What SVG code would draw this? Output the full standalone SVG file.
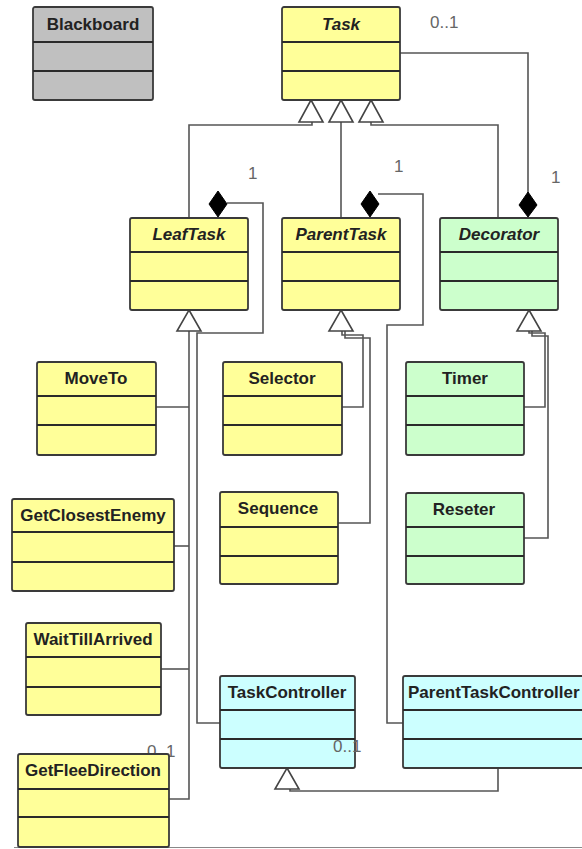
<svg xmlns="http://www.w3.org/2000/svg" width="582" height="849" viewBox="0 0 582 849">
  <style>
    .box { stroke: #3a3a3a; stroke-width: 1.8; }
    .yellow { fill: #ffff99; }
    .green { fill: #ccffcc; }
    .cyan { fill: #ccffff; }
    .gray { fill: #c0c0c0; }
    .div { stroke: #2a2a2a; stroke-width: 1.8; }
    .title { font-family: "Liberation Sans", Arial, sans-serif; font-size: 17px; font-weight: bold; fill: #222; text-anchor: middle; }
    .abstract { font-style: italic; }
    .conn { fill: none; stroke: #555; stroke-width: 1.6; }
    .gen { fill: #fff; stroke: #444; stroke-width: 1.6; }
    .comp { fill: #000; stroke: #000; stroke-width: 1; }
    .mult { font-family: "Liberation Sans", Arial, sans-serif; font-size: 17px; fill: #666; }
  </style>

  <!-- multiplicity partly hidden behind GetFleeDirection -->
  <text class="mult" x="147" y="757">0..1</text>

  <!-- connectors -->
  <g id="connectors">
    <!-- Task to Decorator association -->
    <path class="conn" d="M400,53 H528 V193"/>
    <!-- generalizations to Task -->
    <path class="conn" d="M189,218 V125 H312 V122"/>
    <path class="conn" d="M341,218 V122"/>
    <path class="conn" d="M498,218 V125 H371 V122"/>
    <!-- LeafTask subclasses -->
    <path class="conn" d="M189,331 V799 H169"/>
    <path class="conn" d="M156,407 H189"/>
    <path class="conn" d="M174,546 H189"/>
    <path class="conn" d="M161,669 H189"/>
    <!-- LeafTask composition to TaskController -->
    <path class="conn" d="M227,203 H263 V333 H197 V723 H220"/>
    <!-- ParentTask subclasses -->
    <path class="conn" d="M342,331 V335 H363 V407 H342"/>
    <path class="conn" d="M345,331 V338 H370 V523 H338"/>
    <!-- ParentTask composition to ParentTaskController -->
    <path class="conn" d="M378,194 H423 V325 H387 V723 H403"/>
    <!-- Decorator subclasses -->
    <path class="conn" d="M529,331 V333 H545 V407 H524"/>
    <path class="conn" d="M532,331 V336 H548 V538 H524"/>
    <!-- ParentTaskController generalizes TaskController -->
    <path class="conn" d="M498,768 V791 H290 V789"/>

    <!-- hollow triangles -->
    <polygon class="gen" points="311,100 323,122 299,122"/>
    <polygon class="gen" points="341,100 353,122 329,122"/>
    <polygon class="gen" points="371,100 383,122 359,122"/>
    <polygon class="gen" points="189,310 201,331 177,331"/>
    <polygon class="gen" points="341,310 353,331 329,331"/>
    <polygon class="gen" points="529,310 541,331 517,331"/>
    <polygon class="gen" points="287,768 299,789 275,789"/>

    <!-- composition diamonds -->
    <polygon class="comp" points="218,191 227,204 218,217 209,204"/>
    <polygon class="comp" points="370,191 379,204 370,217 361,204"/>
    <polygon class="comp" points="528,192 537,205 528,217 519,205"/>

    <!-- bottom rule -->
    <line x1="14" y1="847.5" x2="582" y2="847.5" stroke="#888" stroke-width="1.2"/>
  </g>

  <g id="Blackboard">
    <rect class="box gray" x="33" y="7" width="120" height="93" rx="2"/>
    <line class="div" x1="33" y1="42" x2="153" y2="42"/>
    <line class="div" x1="33" y1="71" x2="153" y2="71"/>
    <text class="title" x="93" y="30">Blackboard</text>
  </g>

  <g id="Task">
    <rect class="box yellow" x="282" y="7" width="118" height="93" rx="2"/>
    <line class="div" x1="282" y1="42" x2="400" y2="42"/>
    <line class="div" x1="282" y1="71" x2="400" y2="71"/>
    <text class="title abstract" x="341" y="30">Task</text>
  </g>

  <g id="LeafTask">
    <rect class="box yellow" x="130" y="218" width="118" height="92" rx="2"/>
    <line class="div" x1="130" y1="252" x2="248" y2="252"/>
    <line class="div" x1="130" y1="281" x2="248" y2="281"/>
    <text class="title abstract" x="189" y="240">LeafTask</text>
  </g>

  <g id="ParentTask">
    <rect class="box yellow" x="282" y="218" width="118" height="92" rx="2"/>
    <line class="div" x1="282" y1="252" x2="400" y2="252"/>
    <line class="div" x1="282" y1="281" x2="400" y2="281"/>
    <text class="title abstract" x="341" y="240">ParentTask</text>
  </g>

  <g id="Decorator">
    <rect class="box green" x="440" y="218" width="118" height="92" rx="2"/>
    <line class="div" x1="440" y1="252" x2="558" y2="252"/>
    <line class="div" x1="440" y1="281" x2="558" y2="281"/>
    <text class="title abstract" x="499" y="240">Decorator</text>
  </g>

  <g id="MoveTo">
    <rect class="box yellow" x="37" y="362" width="119" height="93" rx="2"/>
    <line class="div" x1="37" y1="396" x2="156" y2="396"/>
    <line class="div" x1="37" y1="425" x2="156" y2="425"/>
    <text class="title" x="96" y="384">MoveTo</text>
  </g>

  <g id="Selector">
    <rect class="box yellow" x="223" y="362" width="119" height="93" rx="2"/>
    <line class="div" x1="223" y1="396" x2="342" y2="396"/>
    <line class="div" x1="223" y1="425" x2="342" y2="425"/>
    <text class="title" x="282" y="384">Selector</text>
  </g>

  <g id="Timer">
    <rect class="box green" x="406" y="362" width="118" height="93" rx="2"/>
    <line class="div" x1="406" y1="396" x2="524" y2="396"/>
    <line class="div" x1="406" y1="425" x2="524" y2="425"/>
    <text class="title" x="465" y="384">Timer</text>
  </g>

  <g id="GetClosestEnemy">
    <rect class="box yellow" x="12" y="499" width="162" height="92" rx="2"/>
    <line class="div" x1="12" y1="532" x2="174" y2="532"/>
    <line class="div" x1="12" y1="562" x2="174" y2="562"/>
    <text class="title" x="93" y="521">GetClosestEnemy</text>
  </g>

  <g id="Sequence">
    <rect class="box yellow" x="220" y="492" width="118" height="92" rx="2"/>
    <line class="div" x1="220" y1="527" x2="338" y2="527"/>
    <line class="div" x1="220" y1="556" x2="338" y2="556"/>
    <text class="title" x="278" y="514">Sequence</text>
  </g>

  <g id="Reseter">
    <rect class="box green" x="406" y="493" width="118" height="91" rx="2"/>
    <line class="div" x1="406" y1="527" x2="524" y2="527"/>
    <line class="div" x1="406" y1="556" x2="524" y2="556"/>
    <text class="title" x="464" y="515">Reseter</text>
  </g>

  <g id="WaitTillArrived">
    <rect class="box yellow" x="26" y="623" width="135" height="92" rx="2"/>
    <line class="div" x1="26" y1="657" x2="161" y2="657"/>
    <line class="div" x1="26" y1="687" x2="161" y2="687"/>
    <text class="title" x="93" y="645">WaitTillArrived</text>
  </g>

  <g id="TaskController">
    <rect class="box cyan" x="220" y="676" width="135" height="92" rx="2"/>
    <line class="div" x1="220" y1="710" x2="355" y2="710"/>
    <line class="div" x1="220" y1="739" x2="355" y2="739"/>
    <text class="title" x="287" y="698">TaskController</text>
  </g>

  <g id="ParentTaskController">
    <rect class="box cyan" x="403" y="676" width="190" height="92" rx="2"/>
    <line class="div" x1="403" y1="710" x2="593" y2="710"/>
    <line class="div" x1="403" y1="739" x2="593" y2="739"/>
    <text class="title" x="408" y="698" style="text-anchor:start">ParentTaskController</text>
  </g>

  <g id="GetFleeDirection">
    <rect class="box yellow" x="18" y="754" width="151" height="93" rx="2"/>
    <line class="div" x1="18" y1="789" x2="169" y2="789"/>
    <line class="div" x1="18" y1="817" x2="169" y2="817"/>
    <text class="title" x="93" y="776">GetFleeDirection</text>
  </g>

  <!-- multiplicities -->
  <g id="labels">
    <text class="mult" x="430" y="28">0..1</text>
    <text class="mult" x="248" y="179">1</text>
    <text class="mult" x="394" y="172">1</text>
    <text class="mult" x="551" y="183">1</text>
    <text class="mult" x="333" y="752">0..1</text>
  </g>
</svg>
